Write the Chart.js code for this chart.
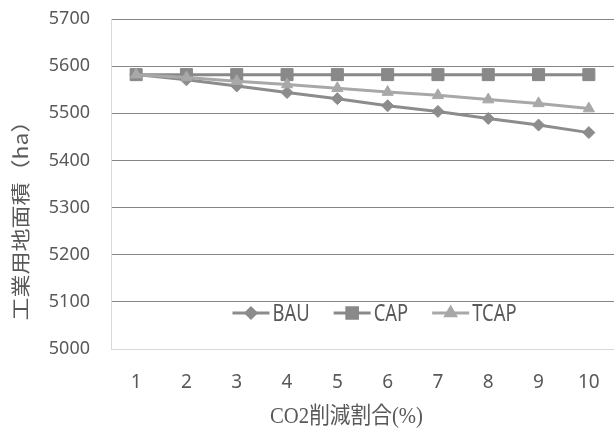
<!DOCTYPE html>
<html>
<head>
<meta charset="utf-8">
<script src="https://cdn.jsdelivr.net/npm/chart.js@4.4.0/dist/chart.umd.min.js"></script>
<style>
    html, body { margin: 0; padding: 0; background: #ffffff; }
    #chartArea { width: 614px; height: 432px; }
</style>
</head>
<body>
<div id="chartArea"><canvas id="myChart" width="614" height="432"></canvas></div>
<script>
const categories = ['1', '2', '3', '4', '5', '6', '7', '8', '9', '10'];
const bauValues = [5582, 5571, 5558, 5544, 5531, 5516, 5504, 5489, 5475, 5459];
const capValues = [5582, 5582, 5582, 5582, 5582, 5582, 5582, 5582, 5582, 5582];
const tcapValues = [5582, 5576, 5568, 5561, 5553, 5545, 5538, 5529, 5521, 5510];
const yMin = 5000;
const yMax = 5700;
const yStep = 100;
const xTitle = 'CO2削減割合(%)';
const yTitle = '工業用地面積（ha）';
const textColor = '#595959';

// titles and in-plot legend, drawn by hand like the spreadsheet original
const decorations = {
    id: 'decorations',
    afterDraw(chart) {
        const ctx = chart.ctx;
        const area = chart.chartArea;
        ctx.save();
        ctx.fillStyle = textColor;
        ctx.textBaseline = 'middle';

        // x title
        ctx.save();
        ctx.textAlign = 'center';
        ctx.font = '23px "Liberation Serif", "Noto Sans CJK JP"';
        ctx.translate((area.left + area.right) / 2 - 16, chart.height - 15);
        ctx.scale(0.9, 1);
        ctx.fillText(xTitle, 0, 0);
        ctx.restore();

        // y title
        ctx.save();
        ctx.textAlign = 'center';
        ctx.font = '23px "Noto Sans CJK JP"';
        ctx.translate(21, (area.top + area.bottom) / 2 + 31);
        ctx.rotate(-Math.PI / 2);
        ctx.scale(1, 0.85);
        ctx.fillText(yTitle, 0, 0);
        ctx.restore();

        // legend
        const sx = 0.8;
        const segLen = 37;
        const gapText = 3;
        const gapItem = 24;
        ctx.font = '23px "Noto Sans"';
        let items = chart.data.datasets.map(function (ds) {
            return { ds: ds, w: ctx.measureText(ds.label).width * sx };
        });
        let total = 0;
        items.forEach(function (it, i) {
            total += segLen + gapText + it.w + (i < items.length - 1 ? gapItem : 0);
        });
        let x = (area.left + area.right) / 2 + 12 - total / 2;
        const y = area.bottom - 36;
        items.forEach(function (it) {
            const ds = it.ds;
            ctx.strokeStyle = ds.borderColor;
            ctx.lineWidth = ds.borderWidth;
            ctx.beginPath();
            ctx.moveTo(x, y);
            ctx.lineTo(x + segLen, y);
            ctx.stroke();
            Chart.helpers.drawPoint(ctx, {
                pointStyle: ds.pointStyle,
                radius: ds.legendRadius,
                borderWidth: 1,
                rotation: 0
            }, x + segLen / 2, y);
            ctx.fillStyle = ds.pointBackgroundColor;
            ctx.strokeStyle = ds.pointBorderColor;
            ctx.fill();
            ctx.fillStyle = textColor;
            ctx.save();
            ctx.textAlign = 'left';
            ctx.translate(x + segLen + gapText, y + 1);
            ctx.scale(sx, 1);
            ctx.fillText(ds.label, 0, 0);
            ctx.restore();
            x += segLen + gapText + it.w + gapItem;
        });
        ctx.restore();
    }
};

function makeSeries(label, values, color, style, radius, legendRadius, order) {
    return {
        label: label,
        data: values,
        borderColor: color,
        backgroundColor: color,
        borderWidth: 3,
        pointStyle: style,
        pointRadius: radius,
        pointBackgroundColor: color,
        pointBorderColor: color,
        pointBorderWidth: 1,
        legendRadius: legendRadius,
        tension: 0,
        order: order
    };
}

const ctx = document.getElementById('myChart');
const chart = new Chart(ctx, {
    type: 'line',
    data: {
        labels: categories,
        datasets: [
            makeSeries('BAU', bauValues, '#8c8c8c', 'rectRot', 6, 5, 3),
            makeSeries('CAP', capValues, '#898989', 'rect', 8.5, 7.5, 2),
            makeSeries('TCAP', tcapValues, '#a8a8a8', 'triangle', 6.5, 5.5, 1)
        ]
    },
    plugins: [decorations],
    options: {
        responsive: false,
        animation: false,
        devicePixelRatio: 1,
        layout: {
            autoPadding: false,
            padding: { top: 19, right: 0, left: 0, bottom: 0 }
        },
        plugins: {
            legend: { display: false },
            tooltip: { enabled: false }
        },
        scales: {
            x: {
                offset: true,
                grid: { display: false, drawTicks: true, tickLength: 20, tickColor: 'transparent' },
                border: { display: false },
                ticks: {
                    color: textColor,
                    padding: 2,
                    font: { family: 'Noto Sans', size: 19 }
                },
                afterFit: function (scale) {
                    scale.height = 83;
                    scale.paddingLeft = 0;
                    scale.paddingRight = 0;
                }
            },
            y: {
                min: yMin,
                max: yMax,
                grid: {
                    drawTicks: false,
                    lineWidth: 1,
                    color: function (c) {
                        return c.tick && c.tick.value === yMin ? '#d9d9d9' : '#858585';
                    }
                },
                border: { display: true, color: '#d9d9d9', width: 1 },
                ticks: {
                    stepSize: yStep,
                    color: textColor,
                    padding: 21,
                    font: { family: 'Noto Sans', size: 18 },
                    callback: function (value) { return String(value); }
                },
                afterFit: function (scale) {
                    scale.width = 111;
                    scale.paddingTop = 0;
                    scale.paddingBottom = 0;
                }
            }
        }
    }
});
</script>
</body>
</html>
